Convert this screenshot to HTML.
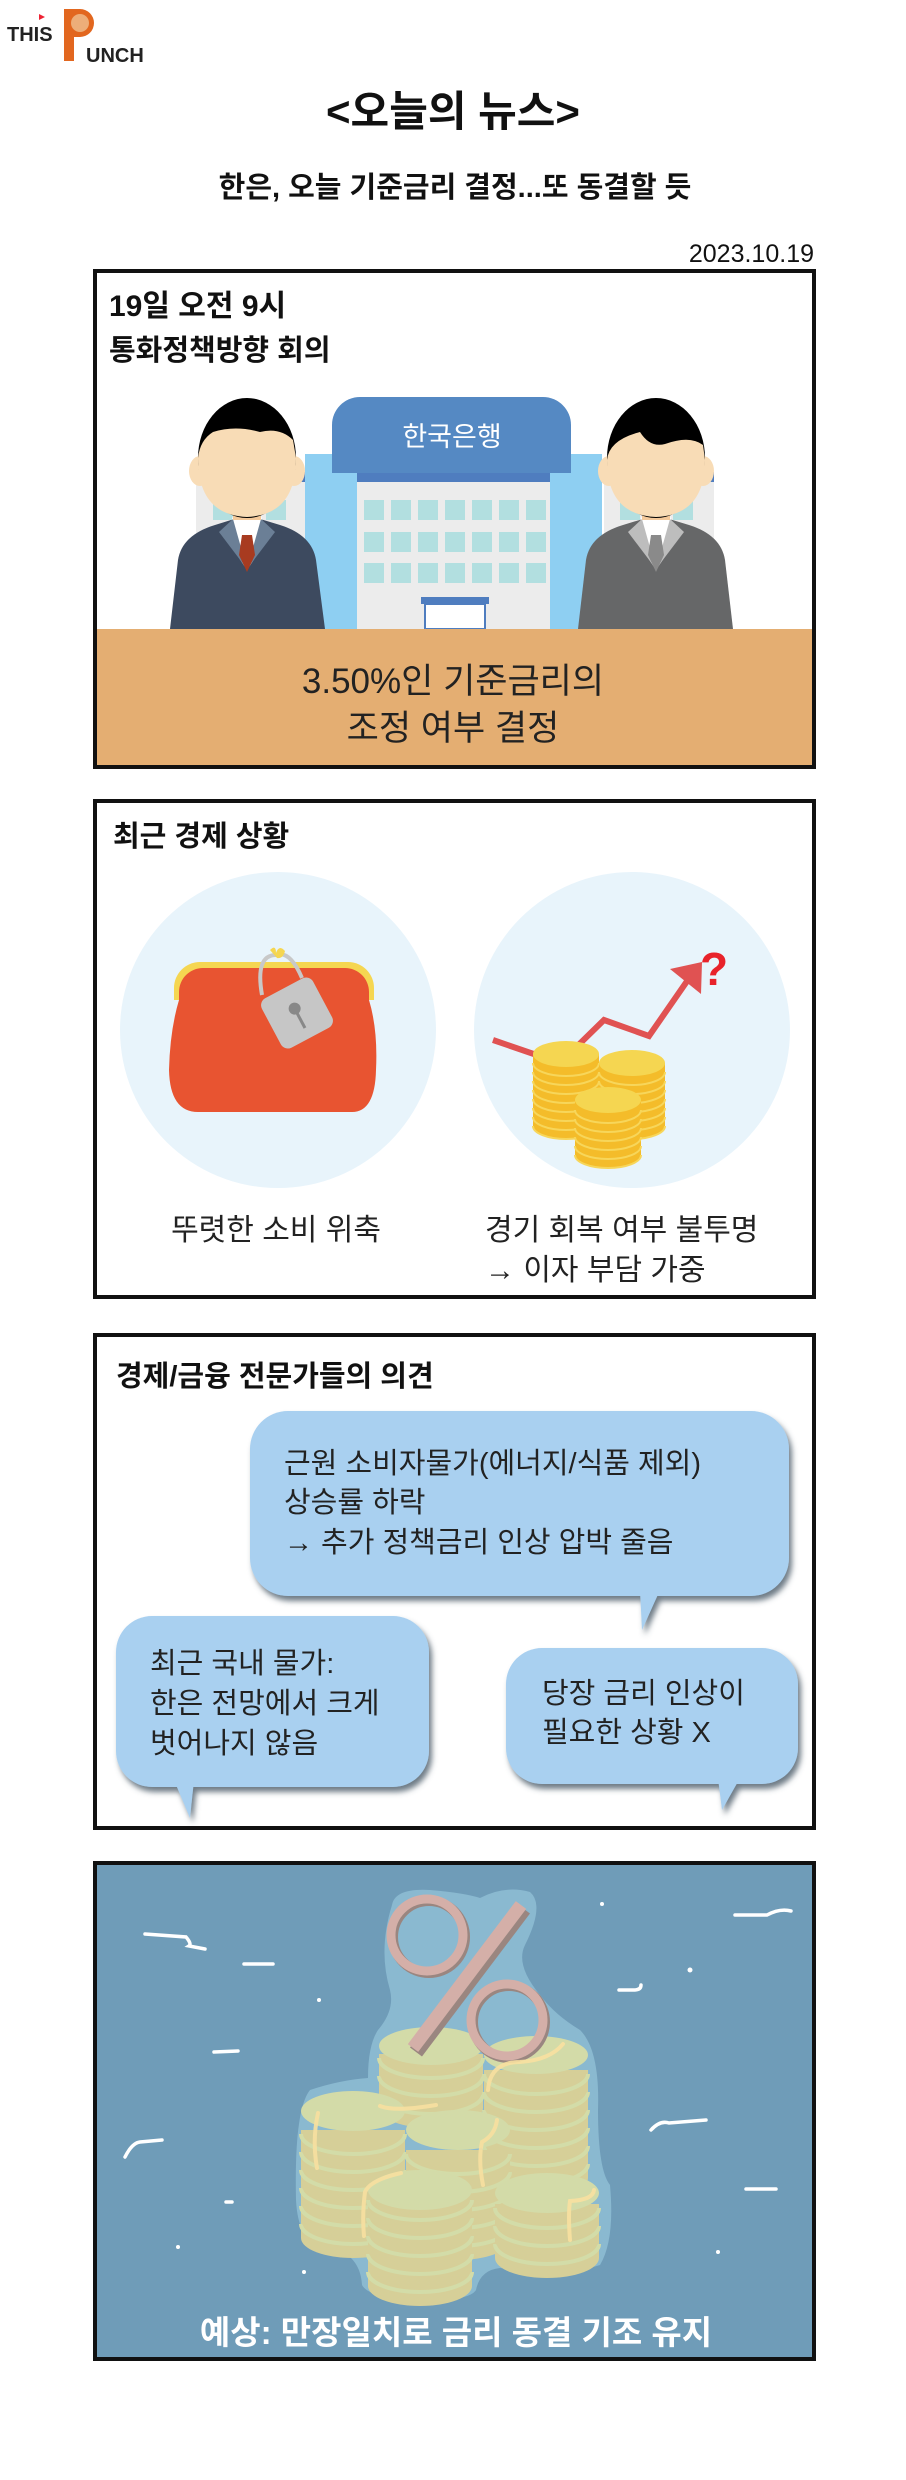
<!DOCTYPE html>
<html><head><meta charset="utf-8"><style>
html,body{margin:0;padding:0;background:#fff;}
svg{display:block;}
text{font-family:"Liberation Sans","Noto Sans CJK KR",sans-serif;}
.b{font-weight:bold;}
</style></head><body>
<svg width="906" height="2480" viewBox="0 0 906 2480" xmlns="http://www.w3.org/2000/svg">
<defs>
<filter id="sh" x="-10%" y="-10%" width="125%" height="130%"><feDropShadow dx="3" dy="5" stdDeviation="3" flood-color="#4a5a68" flood-opacity="0.8"/></filter>
<g id="ylayer"><path d="M-33,0 v9 a33,13 0 0 0 66,0 v-9 z" fill="#f4bc2a"/><path d="M-33,9 a33,13 0 0 0 66,0" fill="none" stroke="#f7d65a" stroke-width="2"/></g>
<g id="glayer"><path d="M-52,0 v18 a52,20 0 0 0 104,0 v-18 z" fill="#d6cf98"/><path d="M-52,4 a52,20 0 0 0 104,0" fill="none" stroke="#d3dca8" stroke-width="4"/></g>
</defs>

<!-- logo -->
<text x="7" y="41" class="b" font-size="20" fill="#222">THIS</text>
<path d="M64,9 h16 a14,14 0 0 1 0,28 h-6 v24 h-10 z" fill="#e2671f"/>
<circle cx="80" cy="23" r="9" fill="#f0c090" opacity="0.8"/>
<polygon points="39,14 45,17 39,20" fill="#e23"/>
<text x="86" y="62" class="b" font-size="20" fill="#222">UNCH</text>

<!-- titles -->
<text x="453" y="126" text-anchor="middle" class="b" font-size="42" fill="#111">&lt;오늘의 뉴스&gt;</text>
<text x="455" y="197" text-anchor="middle" class="b" font-size="29" fill="#111">한은, 오늘 기준금리 결정...또 동결할 듯</text>
<text x="814" y="262" text-anchor="end" font-size="25" fill="#111">2023.10.19</text>

<!-- PANEL 1 -->
<rect x="95" y="271" width="719" height="496" fill="#fff" stroke="#111" stroke-width="4"/>
<text x="109" y="316" class="b" font-size="30" fill="#111">19일 오전 9시</text>
<text x="109" y="360" class="b" font-size="29" fill="#111">통화정책방향 회의</text>
<!-- side wings -->
<rect x="196" y="472" width="110" height="157" fill="#ececec"/><rect x="196" y="472" width="110" height="10" fill="#4f7dbf"/>
<rect x="604" y="472" width="110" height="157" fill="#ececec"/><rect x="604" y="472" width="110" height="10" fill="#4f7dbf"/>
<g fill="#b2dfe0"><rect x="213" y="500" width="20" height="20"/><rect x="266" y="500" width="20" height="20"/><rect x="620" y="500" width="20" height="20"/><rect x="673" y="500" width="20" height="20"/></g>
<rect x="305" y="454" width="52" height="175" fill="#8ecff2"/>
<rect x="550" y="454" width="52" height="175" fill="#8ecff2"/>
<rect x="357" y="473" width="193" height="156" fill="#ececec"/>
<rect x="357" y="473" width="193" height="9" fill="#4f7dbf"/>
<g fill="#b2dfe0">
<rect x="364" y="500" width="20" height="20"/><rect x="391" y="500" width="20" height="20"/><rect x="418" y="500" width="20" height="20"/><rect x="445" y="500" width="20" height="20"/><rect x="472" y="500" width="20" height="20"/><rect x="499" y="500" width="20" height="20"/><rect x="526" y="500" width="20" height="20"/>
<rect x="364" y="532" width="20" height="20"/><rect x="391" y="532" width="20" height="20"/><rect x="418" y="532" width="20" height="20"/><rect x="445" y="532" width="20" height="20"/><rect x="472" y="532" width="20" height="20"/><rect x="499" y="532" width="20" height="20"/><rect x="526" y="532" width="20" height="20"/>
<rect x="364" y="563" width="20" height="20"/><rect x="391" y="563" width="20" height="20"/><rect x="418" y="563" width="20" height="20"/><rect x="445" y="563" width="20" height="20"/><rect x="472" y="563" width="20" height="20"/><rect x="499" y="563" width="20" height="20"/><rect x="526" y="563" width="20" height="20"/>
</g>
<rect x="421" y="597" width="68" height="7" fill="#4f7dbf"/>
<rect x="425" y="604" width="60" height="25" fill="#fff" stroke="#4f7dbf" stroke-width="2"/>
<path d="M332,473 v-48 a28,28 0 0 1 28,-28 h183 a28,28 0 0 1 28,28 v48 z" fill="#5589c3"/>
<text x="452" y="446" text-anchor="middle" font-size="27" fill="#fff">한국은행</text>
<!-- left person -->
<path d="M170,629 L178,560 Q182,535 215,525 L247,515 L280,525 Q312,535 316,560 L325,629 z" fill="#3d4a5f"/>
<path d="M233,515 h28 l6,25 l-20,30 l-20,-30 z" fill="#fff"/>
<path d="M219,532 l14,-13 l14,50 z" fill="#6b7f96"/><path d="M275,532 l-14,-13 l-14,50 z" fill="#6b7f96"/>
<path d="M242,535 h10 l3,20 l-8,17 l-8,-17 z" fill="#a83b20"/>
<rect x="233" y="500" width="28" height="20" fill="#f4c99a"/>
<ellipse cx="200" cy="471" rx="11" ry="15" fill="#f8dcb6"/><ellipse cx="294" cy="471" rx="11" ry="15" fill="#f8dcb6"/>
<ellipse cx="247" cy="458" rx="49" ry="60" fill="#000"/>
<path d="M198,458 Q200,440 213,432 Q235,425 260,432 Q280,427 293,440 L296,458 Q296,515 247,517 Q198,515 198,458 z" fill="#f8dcb6"/>
<!-- right person -->
<path d="M578,629 L586,560 Q590,535 623,525 L656,515 L689,525 Q721,535 725,560 L733,629 z" fill="#666768"/>
<path d="M642,515 h28 l6,25 l-20,30 l-20,-30 z" fill="#fff"/>
<path d="M628,532 l14,-13 l14,50 z" fill="#bdbdbd"/><path d="M684,532 l-14,-13 l-14,50 z" fill="#bdbdbd"/>
<path d="M651,535 h10 l3,20 l-8,17 l-8,-17 z" fill="#8a8a8a"/>
<rect x="642" y="500" width="28" height="20" fill="#f4c99a"/>
<ellipse cx="609" cy="471" rx="11" ry="15" fill="#f8dcb6"/><ellipse cx="703" cy="471" rx="11" ry="15" fill="#f8dcb6"/>
<ellipse cx="656" cy="458" rx="49" ry="60" fill="#000"/>
<path d="M607,460 Q609,440 640,432 Q650,448 665,444 Q690,435 703,445 L705,460 Q705,515 656,517 Q607,515 607,460 z" fill="#f8dcb6"/>
<!-- desk -->
<rect x="97" y="629" width="715" height="136" fill="#e4ae72"/>
<text x="453" y="693" text-anchor="middle" font-size="35" fill="#222">3.50%인 기준금리의</text>
<text x="453" y="740" text-anchor="middle" font-size="35" fill="#222">조정 여부 결정</text>
<rect x="95" y="271" width="719" height="496" fill="none" stroke="#111" stroke-width="4"/>

<!-- PANEL 2 -->
<rect x="95" y="801" width="719" height="496" fill="#fff" stroke="#111" stroke-width="4"/>
<text x="113" y="846" class="b" font-size="29" fill="#111">최근 경제 상황</text>
<circle cx="278" cy="1030" r="158" fill="#e8f4fb"/>
<circle cx="632" cy="1030" r="158" fill="#e8f4fb"/>
<!-- wallet -->
<path d="M174,1000 v-12 a26,26 0 0 1 26,-26 h148 a26,26 0 0 1 26,26 v12 z" fill="#f5d651"/>
<path d="M179,1000 v-8 a24,24 0 0 1 24,-24 h142 a24,24 0 0 1 24,24 v8 Q378,1030 376,1070 Q375,1112 352,1112 h-154 Q170,1112 169,1070 Q170,1030 179,1000 z" fill="#e85431"/>
<path d="M262,995 Q255,955 276,955 Q290,950 302,978" fill="none" stroke="#c8c8c8" stroke-width="4"/>
<path d="M270,950 q6,-6 6,3 q3,-9 9,-2 q-2,8 -8,7 z" fill="#f5d651"/>
<g transform="rotate(-28 297 1013)"><rect x="268" y="985" width="58" height="56" rx="8" fill="#c6c6c6"/><circle cx="297" cy="1008" r="6" fill="#888"/><rect x="295.5" y="1010" width="3" height="20" fill="#888"/></g>
<!-- arrow -->
<polyline points="493,1040 560,1063" fill="none" stroke="#e05252" stroke-width="6"/>
<polyline points="560,1063 604,1020 649,1036 692,974" fill="none" stroke="#e05252" stroke-width="6"/>
<polygon points="670,969 702,962 701,994" fill="#e05252"/>
<text x="700" y="985" class="b" font-size="46" fill="#e8222a">?</text>
<!-- coins -->
<g transform="translate(566,1117)"><use href="#ylayer"/><use href="#ylayer" y="-9"/><use href="#ylayer" y="-18"/><use href="#ylayer" y="-27"/><use href="#ylayer" y="-36"/><use href="#ylayer" y="-45"/><use href="#ylayer" y="-54"/><use href="#ylayer" y="-63"/><ellipse cx="0" cy="-63" rx="33" ry="13" fill="#f5d651"/></g>
<g transform="translate(632,1117)"><use href="#ylayer"/><use href="#ylayer" y="-9"/><use href="#ylayer" y="-18"/><use href="#ylayer" y="-27"/><use href="#ylayer" y="-36"/><use href="#ylayer" y="-45"/><use href="#ylayer" y="-54"/><ellipse cx="0" cy="-54" rx="33" ry="13" fill="#f5d651"/></g>
<g transform="translate(608,1146)"><use href="#ylayer"/><use href="#ylayer" y="-9"/><use href="#ylayer" y="-18"/><use href="#ylayer" y="-27"/><use href="#ylayer" y="-36"/><use href="#ylayer" y="-45"/><ellipse cx="0" cy="-46" rx="33" ry="13" fill="#f5d651"/></g>
<text x="276" y="1240" text-anchor="middle" font-size="30" fill="#222">뚜렷한 소비 위축</text>
<text x="485" y="1240" font-size="30" fill="#222">경기 회복 여부 불투명</text>
<text x="485" y="1280" font-size="30" fill="#222">→ 이자 부담 가중</text>

<!-- PANEL 3 -->
<rect x="95" y="1335" width="719" height="493" fill="#fff" stroke="#111" stroke-width="4"/>
<text x="116" y="1386" class="b" font-size="29" fill="#111">경제/금융 전문가들의 의견</text>
<g filter="url(#sh)" fill="#a9d0f0">
<rect x="250" y="1411" width="539" height="185" rx="38"/>
<polygon points="640,1590 660,1590 642,1630"/>
<rect x="116" y="1616" width="313" height="171" rx="36"/>
<polygon points="174,1780 194,1780 190,1818"/>
<rect x="506" y="1648" width="292" height="136" rx="36"/>
<polygon points="718,1778 740,1778 722,1810"/>
</g>
<g font-size="29" fill="#222">
<text x="284" y="1473">근원 소비자물가(에너지/식품 제외)</text>
<text x="284" y="1512">상승률 하락</text>
<text x="284" y="1552">→ 추가 정책금리 인상 압박 줄음</text>
<text x="150" y="1673">최근 국내 물가:</text>
<text x="150" y="1713">한은 전망에서 크게</text>
<text x="150" y="1753">벗어나지 않음</text>
<text x="542" y="1703">당장 금리 인상이</text>
<text x="542" y="1742">필요한 상황 X</text>
</g>

<!-- PANEL 4 -->
<rect x="95" y="1863" width="719" height="496" fill="#6f9cb8" stroke="#111" stroke-width="4"/>
<path d="M392,1905 Q395,1888 430,1890 Q465,1893 480,1898 Q505,1885 530,1892 Q545,1905 525,1945 Q515,1965 540,1995 Q555,2015 580,2030 Q600,2050 598,2110 Q598,2170 610,2185 Q615,2240 600,2265 Q570,2275 500,2268 Q480,2270 476,2290 Q470,2300 430,2300 Q370,2300 362,2285 Q360,2250 320,2245 Q298,2240 296,2200 Q294,2110 310,2090 Q340,2080 368,2078 Q368,2045 378,2030 Q395,2010 390,1990 Q378,1950 392,1905 z" fill="#8ab9d0"/>
<!-- stacks -->
<g transform="translate(431,2090)"><use href="#glayer"/><use href="#glayer" y="-18"/><use href="#glayer" y="-36"/><ellipse cx="0" cy="-44" rx="52" ry="19" fill="#d3dba8"/></g>
<g transform="translate(536,2160)"><use href="#glayer"/><use href="#glayer" y="-18"/><use href="#glayer" y="-36"/><use href="#glayer" y="-54"/><use href="#glayer" y="-72"/><use href="#glayer" y="-90"/><ellipse cx="0" cy="-105" rx="52" ry="19" fill="#d3dba8"/></g>
<g transform="translate(353,2220)"><use href="#glayer"/><use href="#glayer" y="-18"/><use href="#glayer" y="-36"/><use href="#glayer" y="-54"/><use href="#glayer" y="-72"/><use href="#glayer" y="-90"/><ellipse cx="0" cy="-109" rx="52" ry="20" fill="#d3dba8"/></g>
<g transform="translate(458,2222)"><use href="#glayer"/><use href="#glayer" y="-18"/><use href="#glayer" y="-36"/><use href="#glayer" y="-54"/><use href="#glayer" y="-72"/><ellipse cx="0" cy="-92" rx="52" ry="20" fill="#d3dba8"/></g>
<g transform="translate(420,2268)"><use href="#glayer"/><use href="#glayer" y="-18"/><use href="#glayer" y="-36"/><use href="#glayer" y="-54"/><use href="#glayer" y="-72"/><ellipse cx="0" cy="-78" rx="52" ry="20" fill="#d3dba8"/></g>
<g transform="translate(547,2240)"><use href="#glayer"/><use href="#glayer" y="-18"/><use href="#glayer" y="-36"/><ellipse cx="0" cy="-47" rx="52" ry="20" fill="#d3dba8"/></g>
<!-- percent -->
<ellipse cx="429" cy="1937" rx="36" ry="36" fill="none" stroke="#9a8680" stroke-width="10"/>
<ellipse cx="427" cy="1935" rx="36" ry="36" fill="none" stroke="#d4afa8" stroke-width="9"/>
<ellipse cx="509" cy="2022" rx="36" ry="36" fill="none" stroke="#9a8680" stroke-width="10"/>
<ellipse cx="507" cy="2020" rx="36" ry="36" fill="none" stroke="#d4afa8" stroke-width="9"/>
<line x1="524" y1="1909" x2="416" y2="2052" stroke="#9a8680" stroke-width="15"/>
<line x1="521" y1="1905" x2="413" y2="2048" stroke="#d4afa8" stroke-width="13"/>
<!-- yellow scribbles -->
<g fill="none" stroke="#f8e0a0" stroke-width="4" stroke-linecap="round" opacity="0.9">
<path d="M563,2044 Q550,2060 520,2062 Q490,2062 488,2090"/>
<path d="M318,2113 Q312,2140 317,2168"/>
<path d="M380,2106 Q395,2112 436,2105"/>
<path d="M497,2120 Q495,2135 482,2142 Q478,2160 483,2185"/>
<path d="M401,2173 Q370,2180 365,2192 Q362,2215 364,2236"/>
<path d="M594,2190 Q593,2200 570,2201 Q568,2215 570,2240"/>
</g>
<!-- white squiggles -->
<g fill="none" stroke="#fff" stroke-width="3.5" stroke-linecap="round">
<path d="M145,1934 L186,1937 Q192,1944 189,1946 L205,1949"/>
<path d="M244,1964 H273"/>
<path d="M214,2052 L238,2051"/>
<path d="M125,2157 Q132,2143 140,2142 L162,2140"/>
<path d="M226,2202 H232"/>
<path d="M735,1915 H767 Q780,1908 791,1911"/>
<path d="M619,1990 H634 Q641,1990 641,1985"/>
<path d="M651,2130 Q660,2120 669,2123 L706,2120"/>
<path d="M746,2189 H776"/>
</g>
<g fill="#fff"><circle cx="319" cy="2000" r="2"/><circle cx="178" cy="2247" r="2"/><circle cx="304" cy="2272" r="2"/><circle cx="602" cy="1904" r="2"/><circle cx="690" cy="1970" r="2.5"/><circle cx="718" cy="2252" r="2"/></g>
<text x="456" y="2344" text-anchor="middle" class="b" font-size="33" fill="#fff">예상: 만장일치로 금리 동결 기조 유지</text>
<rect x="95" y="1863" width="719" height="496" fill="none" stroke="#111" stroke-width="4"/>
</svg>
</body></html>
